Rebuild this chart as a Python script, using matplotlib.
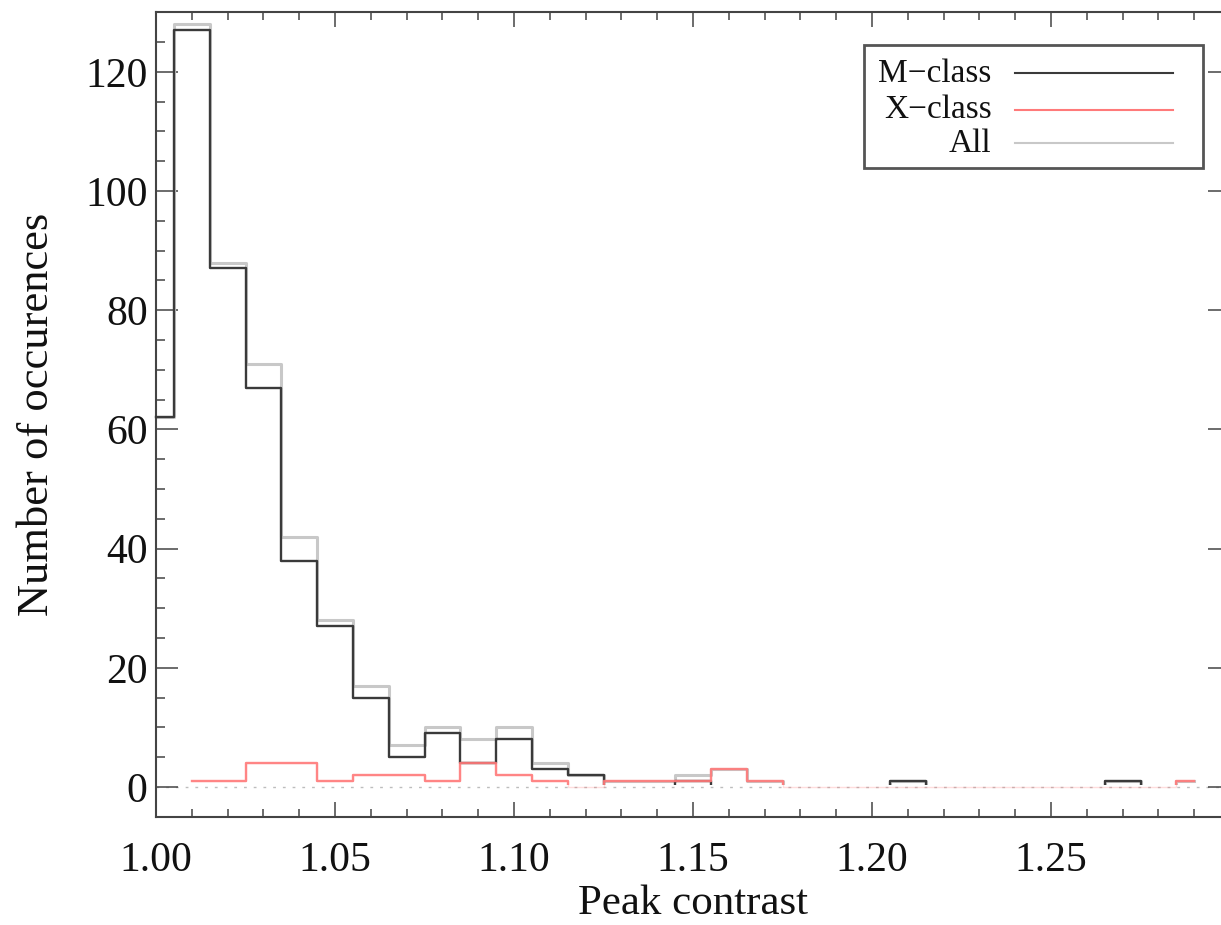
import numpy as np
import matplotlib
matplotlib.use("Agg")
import matplotlib.pyplot as plt
from matplotlib.patches import Rectangle
from matplotlib.ticker import FixedLocator, MultipleLocator, FormatStrFormatter
from matplotlib.lines import Line2D

# ---------------- data ----------------
peak_contrast = [1.00, 1.01, 1.02, 1.03, 1.04, 1.05, 1.06, 1.07, 1.08, 1.09,
                 1.10, 1.11, 1.12, 1.13, 1.14, 1.15, 1.16, 1.17, 1.18, 1.19,
                 1.20, 1.21, 1.22, 1.23, 1.24, 1.25, 1.26, 1.27, 1.28, 1.29]
m_class = [62, 127, 87, 67, 38, 27, 15, 5, 9, 4,
           8, 3, 2, 0, 0, 1, 0, 0, 0, 0,
           0, 1, 0, 0, 0, 0, 0, 1, 0, 0]
all_flares = [62, 128, 88, 71, 42, 28, 17, 7, 10, 8,
              10, 4, 2, 1, 1, 2, 3, 1, 0, 0,
              0, 1, 0, 0, 0, 0, 0, 1, 0, 1]
x_contrast = peak_contrast[1:]
x_class = [1, 1, 4, 4, 1, 2, 2, 1, 4,
           2, 1, 0, 1, 1, 1, 3, 1, 0, 0,
           0, 0, 0, 0, 0, 0, 0, 0, 0, 1]
legend_labels = ["M\u2212class", "X\u2212class", "All"]
x_major_ticks = [1.00, 1.05, 1.10, 1.15, 1.20, 1.25]

# ---------------- style ----------------
plt.rcParams["font.family"] = ["Liberation Serif", "DejaVu Serif"]
c_m = "#3a3a3a"
c_all = "#c8c8c8"
c_x = "#ff7a7a"
c_axis = "#444444"

fig = plt.figure(figsize=(12.21, 9.25), dpi=100)
ax = fig.add_axes([0.1278, 0.117, 0.8796, 0.8698])
ax.set_xlim(1.0, 1.30)
ax.set_ylim(-5, 130)

# clip region hiding the zero baseline of the histograms
def clip_above(line, level=0.35):
    r = Rectangle((0.9, level), 1.0, 500, transform=ax.transData)
    line.set_clip_path(r)

# zero reference line (faint dotted)
ax.axhline(0, color="#bdbdbd", lw=1.0, ls=(0, (2, 5)), zorder=1)

l_all, = ax.step(peak_contrast, all_flares, where="mid", color=c_all, lw=2.2, zorder=2)
clip_above(l_all)
l_m, = ax.step(peak_contrast, m_class, where="mid", color=c_m, lw=1.7, zorder=3)
clip_above(l_m)
l_x0, = ax.step(x_contrast, x_class, where="mid", color=c_x, lw=1.0, alpha=0.25, zorder=3)
l_x, = ax.step(x_contrast, x_class, where="mid", color=c_x, lw=1.7, alpha=0.9, zorder=4)
clip_above(l_x)

# ---------------- axes / ticks ----------------
for s in ax.spines.values():
    s.set_color(c_axis)
    s.set_linewidth(1.5)

ax.xaxis.set_major_locator(FixedLocator(x_major_ticks))
ax.xaxis.set_minor_locator(MultipleLocator(0.01))
ax.xaxis.set_major_formatter(FormatStrFormatter("%.2f"))
ax.yaxis.set_major_locator(MultipleLocator(20))
ax.yaxis.set_minor_locator(MultipleLocator(5))

ax.tick_params(axis="both", which="both", direction="in", top=True, right=True,
               color=c_axis, width=1.1, labelsize=30, labelcolor="#111111")
ax.tick_params(axis="x", which="major", length=11, pad=18)
ax.tick_params(axis="x", which="minor", length=6)
ax.tick_params(axis="y", which="major", length=16, pad=6)
ax.tick_params(axis="y", which="minor", length=6.5)

ax.set_xlabel("Peak contrast", fontsize=31, color="#111111", labelpad=3)
ax.set_ylabel("Number of occurences", fontsize=32, color="#111111", labelpad=20)

# ---------------- legend box ----------------
box = Rectangle((0.659, 0.806), 0.316, 0.153, transform=ax.transAxes,
                facecolor="white", edgecolor="#555555", lw=2.0, zorder=6)
ax.add_patch(box)
rows_y = [0.924, 0.879, 0.837]
for lab, col, yy in zip(legend_labels, [c_m, c_x, c_all], rows_y):
    ax.text(0.778, yy, lab, transform=ax.transAxes, ha="right", va="center",
            fontsize=24, color="#111111", zorder=7)
    ax.add_line(Line2D([0.800, 0.947], [yy, yy], transform=ax.transAxes,
                       color=col, lw=1.5, zorder=7))

fig.savefig("out.png", dpi=100)
